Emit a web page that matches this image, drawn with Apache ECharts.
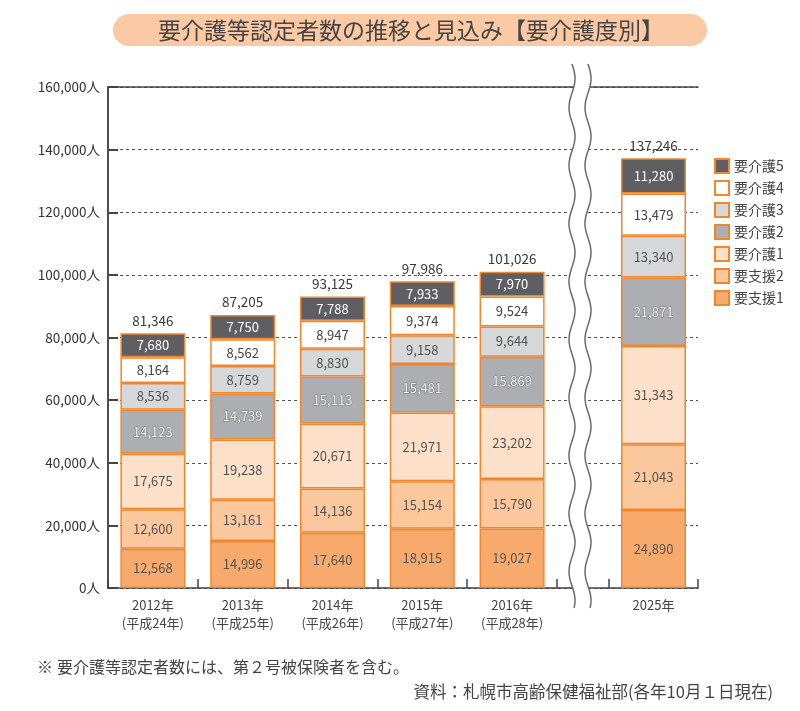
<!DOCTYPE html>
<html><head><meta charset="utf-8">
<script src="https://cdn.jsdelivr.net/npm/echarts@6/dist/echarts.min.js"></script>
<style>html,body{margin:0;padding:0;background:#fff}#c{width:800px;height:711px}</style>
</head><body><div id="c"></div>
<script>
// ---- data ----
const categories = ['2012年\n(平成24年)', '2013年\n(平成25年)', '2014年\n(平成26年)', '2015年\n(平成27年)', '2016年\n(平成28年)', '2025年'];
const seriesNames = ['要支援1', '要支援2', '要介護1', '要介護2', '要介護3', '要介護4', '要介護5'];
const shien1 = [12568, 14996, 17640, 18915, 19027, 24890];
const shien2 = [12600, 13161, 14136, 15154, 15790, 21043];
const kaigo1 = [17675, 19238, 20671, 21971, 23202, 31343];
const kaigo2 = [14123, 14739, 15113, 15481, 15869, 21871];
const kaigo3 = [8536, 8759, 8830, 9158, 9644, 13340];
const kaigo4 = [8164, 8562, 8947, 9374, 9524, 13479];
const kaigo5 = [7680, 7750, 7788, 7933, 7970, 11280];
const totals = [81346, 87205, 93125, 97986, 101026, 137246];
const yMax = 160000, yStep = 20000;

// ---- layout: 5 years before the axis break, 1 year after ----
const nBefore = 5;
const values = [shien1, shien2, kaigo1, kaigo2, kaigo3, kaigo4, kaigo5];
const fills = ['#f8aa6c', '#fbc89e', '#fde0c9', '#adaeb1', '#d5d7d8', '#ffffff', '#5f5f63'];
const labelColors = ['#555', '#555', '#555', '#f4f4f4', '#555', '#444', '#ffffff'];
const font = '"Noto Sans CJK JP", "Noto Sans", sans-serif';
const fmt = v => v.toLocaleString('en-US');
const axisColor = '#444';

const chart = echarts.init(document.getElementById('c'), null, {renderer: 'canvas'});

function barsFor(part, gi) {
  const pick = arr => part === 0 ? arr.slice(0, nBefore) : arr.slice(nBefore);
  const list = seriesNames.map((name, i) => ({
    name: name, type: 'bar', stack: 's' + part, barWidth: 65, z: 3,
    xAxisIndex: gi, yAxisIndex: gi,
    data: pick(values[i]),
    itemStyle: {color: fills[i], borderColor: '#f0872e', borderWidth: 1.5},
    label: {
      show: true, position: 'inside', formatter: p => fmt(p.value),
      color: labelColors[i], fontSize: 13, fontFamily: font,
      textBorderColor: i === 3 ? '#77777a' : 'transparent', textBorderWidth: i === 3 ? 1 : 0
    }
  }));
  list.push({
    name: '合計', type: 'scatter', symbol: 'rect', symbolSize: 0.01, z: 4, xAxisIndex: gi, yAxisIndex: gi,
    data: pick(totals), itemStyle: {color: '#444', opacity: 1},
    label: {show: true, position: 'top', distance: 6, formatter: p => fmt(p.value),
      color: '#3a3a3a', fontSize: 13.5, fontFamily: font}
  });
  return list;
}

const catAxis = (gi, part) => ({
  type: 'category', gridIndex: gi,
  data: part === 0 ? categories.slice(0, nBefore) : categories.slice(nBefore),
  axisLine: {show: false},
  axisTick: {show: true, inside: true, length: 9, lineStyle: {color: axisColor, width: 1.5}},
  axisLabel: {color: '#444', fontSize: 13, lineHeight: 18, margin: 8, fontFamily: font},
  splitLine: {show: false}
});
const hiddenY = gi => ({type: 'value', gridIndex: gi, min: 0, max: yMax, show: false});

const option = {
  animation: false,
  textStyle: {fontFamily: font},
  grid: [
    {left: 108, right: 102, top: 87, bottom: 123},
    {left: 108, width: 449, top: 87, bottom: 123},
    {left: 609, width: 89, top: 87, bottom: 123}
  ],
  legend: {
    data: seriesNames.slice().reverse(),
    orient: 'vertical', left: 714, top: 158, padding: 0,
    itemWidth: 14, itemHeight: 14, itemGap: 6, icon: 'rect',
    textStyle: {fontSize: 14, color: '#444', fontFamily: font}
  },
  xAxis: [
    {type: 'value', gridIndex: 0, min: 0, max: 1, position: 'bottom',
     axisLine: {show: true, onZero: false, lineStyle: {color: axisColor, width: 1.5}},
     axisTick: {show: false}, axisLabel: {show: false}, splitLine: {show: false}},
    {type: 'value', gridIndex: 0, min: 0, max: 1, position: 'top',
     axisLine: {show: true, onZero: false, lineStyle: {color: axisColor, width: 1.5}},
     axisTick: {show: false}, axisLabel: {show: false}, splitLine: {show: false}},
    catAxis(1, 0),
    catAxis(2, 1)
  ],
  yAxis: [
    {type: 'value', gridIndex: 0, min: 0, max: yMax, interval: yStep, position: 'left',
     axisLine: {show: true, lineStyle: {color: axisColor, width: 1.5}},
     axisTick: {show: true, inside: true, length: 10, lineStyle: {color: axisColor, width: 2}},
     axisLabel: {formatter: v => fmt(v) + '人', color: '#333', fontSize: 13.5, margin: 8, fontFamily: font},
     splitLine: {show: true, lineStyle: {color: '#555', type: [3, 3], width: 1}}},
    {type: 'value', gridIndex: 0, min: 0, max: yMax, interval: yStep, position: 'right',
     axisLine: {show: true, lineStyle: {color: axisColor, width: 1.5}},
     axisTick: {show: false}, axisLabel: {show: false}, splitLine: {show: false}},
    hiddenY(1),
    hiddenY(2)
  ],
  series: barsFor(0, 2).concat(barsFor(1, 3))
};
chart.setOption(option);

// ---- decorations: title pill, axis break, notes ----
const bx = 580;
const y0 = 64, y1 = 608, A = 3, P = 58, half = 8;
const left = [], right = [];
for (let y = y0; y <= y1; y += 2) {
  const dx = A * Math.sin(2 * Math.PI * (y - y0) / P);
  left.push([bx - half + dx, y]);
  right.push([bx + half + dx, y]);
}
const poly = left.concat(right.slice().reverse());
chart.setOption({
  graphic: [
    {type: 'rect', z: 0, shape: {x: 113, y: 14, width: 594, height: 32, r: 16}, style: {fill: '#fbc9a3'}},
    {type: 'text', z: 1, x: 411, y: 30, style: {text: '要介護等認定者数の推移と見込み【要介護度別】', fill: '#454545',
      font: '23px ' + font, textAlign: 'center', textVerticalAlign: 'middle'}},
    {type: 'polygon', z: 100, shape: {points: poly}, style: {fill: '#ffffff', stroke: null}},
    {type: 'polyline', z: 101, shape: {points: left}, style: {stroke: '#6b6b6b', lineWidth: 1.5, fill: null}},
    {type: 'polyline', z: 101, shape: {points: right}, style: {stroke: '#6b6b6b', lineWidth: 1.5, fill: null}},
    {type: 'text', z: 1, x: 37, y: 667, style: {text: '※', fill: '#444',
      font: '16px ' + font, textVerticalAlign: 'middle'}},
    {type: 'text', z: 1, x: 57, y: 667, style: {text: '要介護等認定者数には、第２号被保険者を含む。', fill: '#444',
      font: '16px ' + font, textVerticalAlign: 'middle'}},
    {type: 'text', z: 1, x: 773, y: 692, style: {text: '資料：札幌市高齢保健福祉部(各年10月１日現在)', fill: '#444',
      font: '16.5px ' + font, textAlign: 'right', textVerticalAlign: 'middle'}}
  ]
});
</script></body></html>
